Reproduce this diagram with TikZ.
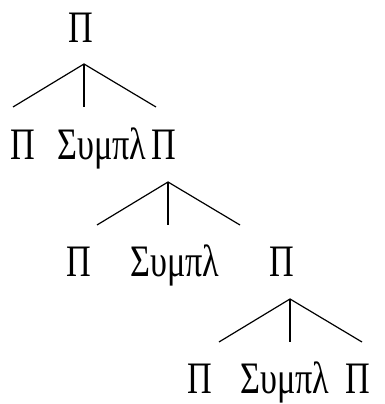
\documentclass[tikz,border=0pt]{standalone}
\usepackage{fontspec}
\setmainfont{Liberation Serif}
\usetikzlibrary{calc}

\begin{document}
\begin{tikzpicture}[x=1pt, y=1pt, line width=1.2pt,
  lbl/.style={anchor=base, inner sep=0pt, xscale=0.76,
    font=\fontsize{45}{50}\selectfont}]
  \useasboundingbox (0,0) rectangle (384,404);
  % labels, row by row
  \node[lbl] (p0) at (81,361) {Π};
  \node[lbl] (p1) at (23,244) {Π};
  \node[lbl] (s1) at (102,244) {Συμπλ};
  \node[lbl] (q1) at (164,244) {Π};
  \node[lbl] (p2) at (79,127) {Π};
  \node[lbl] (s2) at (175,127) {Συμπλ};
  \node[lbl] (q2) at (282,127) {Π};
  \node[lbl] (p3) at (200,10) {Π};
  \node[lbl] (s3) at (285,10) {Συμπλ};
  \node[lbl] (q3) at (358,10) {Π};
  % branches
  \foreach \i/\x/\y in {1/84/340, 2/168/222, 3/290/105} {
    \coordinate (t\i) at (\x,\y);
    \coordinate (t\i l) at ($(t\i)+(-71,-43)$);
    \coordinate (t\i m) at ($(t\i)+(0,-43)$);
    \coordinate (t\i r) at ($(t\i)+(72,-43)$);
    \draw (t\i l) -- (t\i) -- (t\i r);
    \draw (t\i) -- (t\i m);
  }
\end{tikzpicture}
\end{document}
